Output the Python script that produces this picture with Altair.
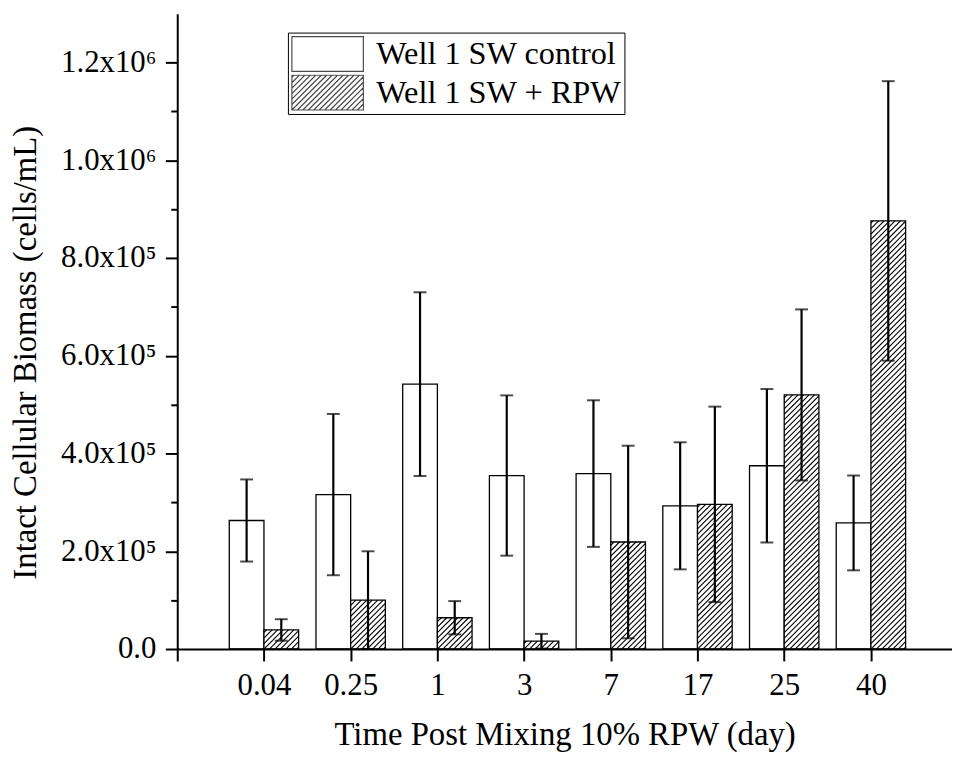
import json
import numpy as np
import pandas as pd
import altair as alt

# ---------------- data ----------------
categories = ["0.04", "0.25", "1", "3", "7", "17", "25", "40"]
series_names = ["Well 1 SW control", "Well 1 SW + RPW"]
control_mean = [2.63e5, 3.16e5, 5.42e5, 3.55e5, 3.59e5, 2.93e5, 3.75e5, 2.58e5]
control_err = [0.84e5, 1.65e5, 1.88e5, 1.64e5, 1.50e5, 1.30e5, 1.57e5, 0.97e5]
rpw_mean = [0.39e5, 1.00e5, 0.64e5, 0.16e5, 2.19e5, 2.96e5, 5.20e5, 8.76e5]
rpw_err = [0.22e5, 1.00e5, 0.34e5, 0.15e5, 1.97e5, 2.00e5, 1.75e5, 2.86e5]
y_tick_values = [0, 2e5, 4e5, 6e5, 8e5, 1.0e6, 1.2e6]
y_tick_labels = ["0.0", "2.0x10\u2075", "4.0x10\u2075", "6.0x10\u2075",
                 "8.0x10\u2075", "1.0x10\u2076", "1.2x10\u2076"]
y_minor_values = [1e5, 3e5, 5e5, 7e5, 9e5, 1.1e6]

# ---------------- layout / style ----------------
FONT = "Liberation Serif"
W, H = 780.5, 640
XMAX = 8.935
YMAX = 1.3e6
BAR_W = 0.4
sx = W / XMAX
sy = H / YMAX
HATCH_P = 5.5   # horizontal spacing of hatch lines (px)
TAN = 1.0       # slope of hatch lines

# ---------------- tables built from the lists ----------------
rows = []
for i, cat in enumerate(categories):
    pos = i + 1
    rows.append(dict(cat=cat, series=series_names[0], x0=pos - BAR_W, x1=pos,
                     xc=pos - BAR_W / 2, mean=control_mean[i],
                     lo=max(control_mean[i] - control_err[i], 0),
                     hi=control_mean[i] + control_err[i]))
    rows.append(dict(cat=cat, series=series_names[1], x0=pos, x1=pos + BAR_W,
                     xc=pos + BAR_W / 2, mean=rpw_mean[i],
                     lo=max(rpw_mean[i] - rpw_err[i], 0),
                     hi=rpw_mean[i] + rpw_err[i]))
bars = pd.DataFrame(rows)
caps = pd.concat([
    bars[["series", "xc", "lo"]].rename(columns={"lo": "cap"}),
    bars[["series", "xc", "hi"]].rename(columns={"hi": "cap"}),
], ignore_index=True)


def hatch_segments(w, h):
    """Diagonal segments inside a w x h pixel box (origin bottom-left, y up)."""
    segs = []
    c = -np.ceil(h / TAN / HATCH_P) * HATCH_P
    while c < w:
        a = max(c, 0.0)
        b = min(c + h / TAN, w)
        if b - a > 0.3:
            segs.append((a, TAN * (a - c), b, TAN * (b - c)))
        c += HATCH_P
    return segs


hrows = []
for r in bars[bars.series == series_names[1]].itertuples():
    w = (r.x1 - r.x0) * sx
    h = r.mean * sy
    for (a, ya, b, yb) in hatch_segments(w, h):
        hrows.append(dict(hx0=r.x0 + a / sx, hy0=ya / sy,
                          hx1=r.x0 + b / sx, hy1=yb / sy))
hatch = pd.DataFrame(hrows)

# legend symbols as custom paths (1 unit = 36 px), 72 x 35 px boxes
U = 36.0
SYM_H = 35.0
half = SYM_H / 2 / U
rect_path = "M-1,-%.4fH1V%.4fH-1Z" % (half, half)
parts = [rect_path]
for (a, ya, b, yb) in hatch_segments(72, SYM_H):
    parts.append("M%.3f,%.3fL%.3f,%.3f" % (a / U - 1, half - ya / U,
                                           b / U - 1, half - yb / U))
hatch_path = " ".join(parts)

xs = alt.Scale(domain=[0, XMAX], nice=False, zero=False)
ys = alt.Scale(domain=[0, YMAX], nice=False)

x_label_expr = "%s[datum.value]" % json.dumps([""] + categories)
y_label_expr = "%s[round(datum.value / %d)]" % (json.dumps(y_tick_labels),
                                                 int(y_tick_values[1]))

x_axis = alt.Axis(values=list(range(0, len(categories) + 1)),
                  labelExpr=x_label_expr, tickSize=12, tickWidth=2,
                  domainWidth=2, labelPadding=9.5, labelFontSize=31,
                  titleFontSize=33, titlePadding=19, labelFlush=False,
                  labelOverlap=False, zindex=1)
y_axis = alt.Axis(values=y_tick_values, labelExpr=y_label_expr, tickSize=12,
                  tickWidth=2, domainWidth=2, labelPadding=9.5,
                  labelFontSize=31, titleFontSize=33, titleY=341,
                  titlePadding=18, labelOverlap=False, labelFlush=False,
                  orient="left", zindex=1)
y_minor_axis = alt.Axis(values=y_minor_values, tickSize=6.5, tickWidth=2,
                        labels=False, domain=False, title=None,
                        orient="left", grid=False)

base = alt.Chart(bars)

ctrl = base.transform_filter(
    alt.datum.series == series_names[0]
).mark_rect(fill="white", stroke="black", strokeWidth=1.3).encode(
    x=alt.X("x0:Q", scale=xs, axis=x_axis,
            title="Time Post Mixing 10% RPW (day)"),
    x2="x1:Q",
    y=alt.Y("mean:Q", scale=ys, axis=y_axis,
            title="Intact Cellular Biomass (cells/mL)"),
    y2=alt.datum(0),
)

rpw = base.transform_filter(
    alt.datum.series == series_names[1]
).mark_rect(fill="white", stroke="black", strokeWidth=1.3).encode(
    x=alt.X("x0:Q", scale=xs), x2="x1:Q",
    y=alt.Y("mean:Q", scale=ys, axis=None), y2=alt.datum(0),
)

hatch_layer = alt.Chart(hatch).mark_rule(color="black", strokeWidth=1.1).encode(
    x=alt.X("hx0:Q", scale=xs), x2="hx1:Q",
    y=alt.Y("hy0:Q", scale=ys, axis=None), y2="hy1:Q",
)

err = base.mark_rule(color="black", strokeWidth=2.2).encode(
    x=alt.X("xc:Q", scale=xs), y=alt.Y("lo:Q", scale=ys, axis=None), y2="hi:Q",
)

cap_layer = alt.Chart(caps).mark_tick(
    color="black", orient="horizontal", size=13, thickness=2
).encode(
    x=alt.X("xc:Q", scale=xs), y=alt.Y("cap:Q", scale=ys, axis=None),
)

minor = alt.Chart(pd.DataFrame({"m": y_minor_values})).mark_rule(
    opacity=0, strokeWidth=0
).encode(y=alt.Y("m:Q", scale=ys, axis=y_minor_axis))

legend_layer = alt.Chart(bars).transform_filter("false").mark_point(
    color="black", filled=False, strokeWidth=1.2
).encode(
    shape=alt.Shape(
        "series:N",
        scale=alt.Scale(domain=series_names, range=[rect_path, hatch_path]),
        legend=alt.Legend(
            orient="none", legendX=111.5, legendY=19, title=None,
            padding=3, rowPadding=2, symbolSize=5184, clipHeight=37,
            labelFont=FONT, labelFontSize=32.5, labelOffset=12,
            labelLimit=500, labelColor="black",
            labelExpr="datum.label + '\u2003\u2009'",
            fillColor="white", strokeColor="black",
            symbolStrokeWidth=1.2, symbolStrokeColor="black",
            symbolFillColor="white",
        ),
    )
)

chart = alt.layer(
    ctrl, rpw, hatch_layer, err, cap_layer, minor, legend_layer
).resolve_axis(y="independent").properties(
    width=W, height=H, autosize=alt.AutoSizeParams(type="none"),
    padding={"left": 170.5, "top": 3, "right": 0, "bottom": 104},
).configure_view(stroke=None).configure_axis(
    labelFont=FONT, titleFont=FONT, domainColor="black", tickColor="black",
    labelColor="black", titleColor="black", grid=False,
    titleFontWeight="normal",
)

chart.save("out.html", embed_options={"renderer": "svg", "actions": False})
